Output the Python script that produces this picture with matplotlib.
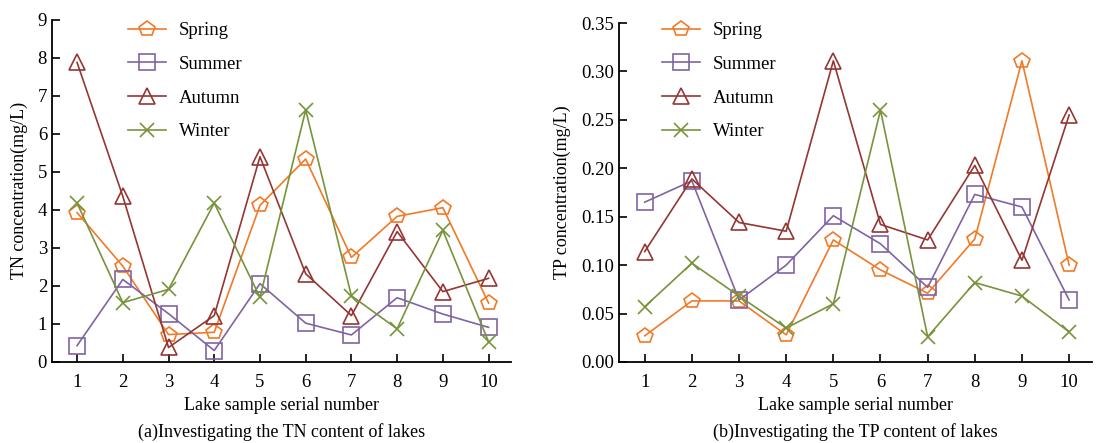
import matplotlib.pyplot as plt
import numpy as np

plt.rcParams['font.family'] = ['Liberation Serif', 'DejaVu Serif']

samples = np.arange(1, 11)
seasons = ['Spring', 'Summer', 'Autumn', 'Winter']

# TN concentration (mg/L)
tn_spring = [3.93, 2.52, 0.72, 0.78, 4.12, 5.34, 2.75, 3.83, 4.06, 1.55]
tn_summer = [0.43, 2.17, 1.27, 0.30, 2.06, 1.02, 0.71, 1.69, 1.26, 0.91]
tn_autumn = [7.88, 4.36, 0.38, 1.22, 5.40, 2.32, 1.22, 3.43, 1.85, 2.20]
tn_winter = [4.18, 1.56, 1.91, 4.18, 1.70, 6.63, 1.74, 0.87, 3.46, 0.53]

# TP concentration (mg/L)
tp_spring = [0.027, 0.063, 0.063, 0.028, 0.126, 0.095, 0.071, 0.127, 0.311, 0.100]
tp_summer = [0.165, 0.187, 0.064, 0.100, 0.151, 0.122, 0.077, 0.173, 0.160, 0.064]
tp_autumn = [0.114, 0.189, 0.144, 0.135, 0.311, 0.142, 0.126, 0.203, 0.105, 0.255]
tp_winter = [0.057, 0.102, 0.068, 0.035, 0.060, 0.260, 0.026, 0.082, 0.068, 0.031]

colors = ['#F07A28', '#8064A2', '#943634', '#77933C']
markers = ['p', 's', '^', 'x']

fig = plt.figure(figsize=(11.05, 4.43), dpi=100)
ax1 = fig.add_axes([0.047, 0.183, 0.415, 0.772])
ax2 = fig.add_axes([0.560, 0.183, 0.428, 0.765])


def draw(ax, series, ylabel, caption, ylim, yticks, fmt, leg_x):
    for vals, c, m, name in zip(series, colors, markers, seasons):
        ax.plot(samples, vals, color=c, marker=m, markersize=11.5 if m != 'x' else 10,
                markerfacecolor='none', markeredgecolor=c, markeredgewidth=1.2,
                linewidth=1.2, label=name)
    ax.set_xlim(0.45, 10.48)
    ax.set_ylim(*ylim)
    ax.set_xticks(samples)
    ax.set_yticks(yticks)
    ax.set_yticklabels([fmt.format(t) for t in yticks])
    ax.spines['top'].set_visible(False)
    ax.spines['right'].set_visible(False)
    ax.spines['left'].set_linewidth(1.3)
    ax.spines['bottom'].set_linewidth(1.3)
    ax.tick_params(direction='in', length=6, width=1.2, labelsize=13.5)
    ax.tick_params(axis='x', pad=9)
    ax.set_xlabel('Lake sample serial number', fontsize=13, labelpad=4)
    ax.set_ylabel(ylabel, fontsize=13, labelpad=7)
    pos = ax.get_position()
    fig.text(pos.x0 + pos.width / 2, 0.025, caption, ha='center', va='center', fontsize=13)
    ax.legend(loc='upper left', bbox_to_anchor=(leg_x, 0.988), bbox_transform=fig.transFigure,
              frameon=False, fontsize=13.5, handlelength=2.0, labelspacing=0.88,
              handletextpad=0.7)


draw(ax1, [tn_spring, tn_summer, tn_autumn, tn_winter], 'TN concentration(mg/L)',
     '(a)Investigating the TN content of lakes', (0, 9), np.arange(0, 10), '{:.0f}', 0.101)
draw(ax2, [tp_spring, tp_summer, tp_autumn, tp_winter], 'TP concentration(mg/L)',
     '(b)Investigating the TP content of lakes', (0, 0.35), np.arange(0, 0.36, 0.05), '{:.2f}', 0.584)

fig.savefig('out.png', dpi=100)
plt.close(fig)
